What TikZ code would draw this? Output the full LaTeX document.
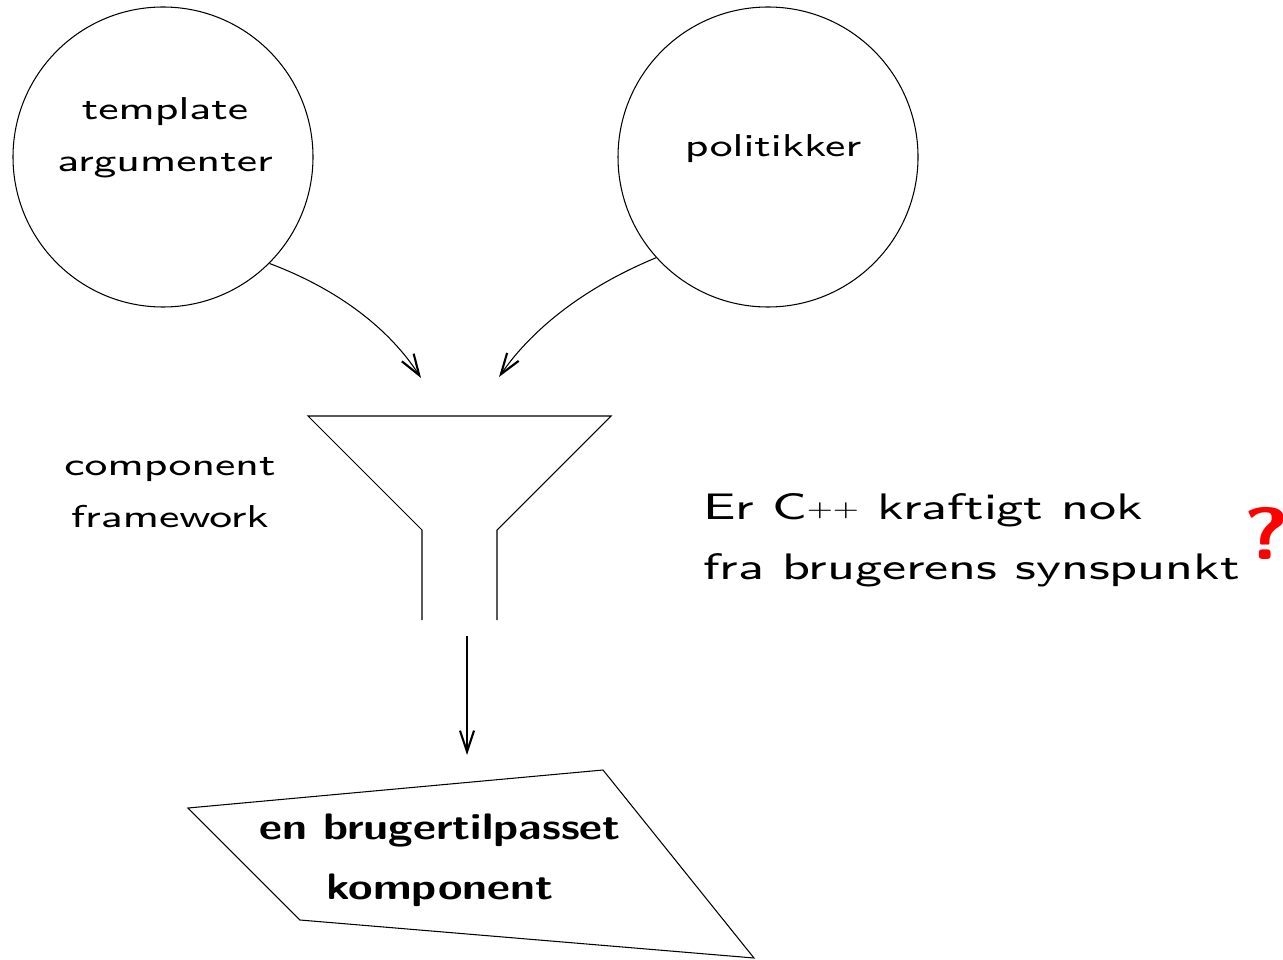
\documentclass[tikz,border=0pt]{standalone}
\usepackage{fontspec}
\usepackage{graphicx}
\newfontfamily\wsans{lmsans8-regular.otf}[FakeStretch=1.36]
\newfontfamily\wsansbig{lmsans8-regular.otf}[FakeStretch=1.38]
\newfontfamily\wsansbold{lmsans10-bold.otf}[FakeStretch=1.21]
\newcommand{\smallplus}{\raisebox{1.6pt}{\scalebox{0.62}{+}}}
\usetikzlibrary{arrows.meta}
\begin{document}
\begin{tikzpicture}[x=0.02cm,y=-0.02cm,
  line/.style={line width=0.6pt},
  conn/.style={line width=0.6pt,-{Straight Barb[length=12pt,width=8pt,line width=1.2pt]}},
  lbl/.style={font=\wsans\fontsize{18}{29.5}\selectfont,align=center,inner sep=0pt},
  big/.style={font=\wsansbig\fontsize{21}{34}\selectfont,align=left,inner sep=0pt},
  bold/.style={font=\wsansbold\fontsize{21}{34}\selectfont,align=center,inner sep=0pt}]
\useasboundingbox (0,0) rectangle (1283,959);
\node[line,draw,circle,minimum size=300*0.02cm,inner sep=0pt] (c1) at (163,157) {};
\node[line,draw,circle,minimum size=300*0.02cm,inner sep=0pt] (c2) at (768,157) {};
\node[lbl] (t1) at (165,138) {template\\argumenter};
\node[lbl] (t2) at (773,149) {politikker};
\coordinate (e1) at (421,378);
\coordinate (e2) at (499,377);
\draw[conn] (c1.-45) .. controls (340,290) and (390,330) .. (e1);
\draw[conn] (c2.222) .. controls (590,285) and (535,325) .. (e2);
% funnel
\coordinate (f1) at (308,416);
\coordinate (f2) at (611,416);
\coordinate (f3) at (422,530);
\coordinate (f4) at (422,620);
\coordinate (f5) at (497,530);
\coordinate (f6) at (497,620);
\draw[line] (f4) -- (f3) -- (f1) -- (f2) -- (f5) -- (f6);
\node[lbl] (t3) at (170,493) {component\\framework};
\coordinate (a1) at (467,636);
\coordinate (a2) at (467,755);
\draw[conn] (a1) -- (a2);
% output shape
\coordinate (p1) at (188,808);
\coordinate (p2) at (603,770);
\coordinate (p3) at (754,958);
\coordinate (p4) at (300,920);
\draw[line] (p1) -- (p2) -- (p3) -- (p4) -- cycle;
\node[bold] (t4) at (440,860) {en brugertilpasset\\komponent};
\node[big,anchor=west] (t5) at (703,540) {Er C\smallplus\smallplus{} kraftigt nok\\fra brugerens synspunkt};
\node[font=\wsansbold\fontsize{42}{42}\selectfont,text=red,inner sep=0pt] (q) at (1267,533) {?};
\end{tikzpicture}
\end{document}
